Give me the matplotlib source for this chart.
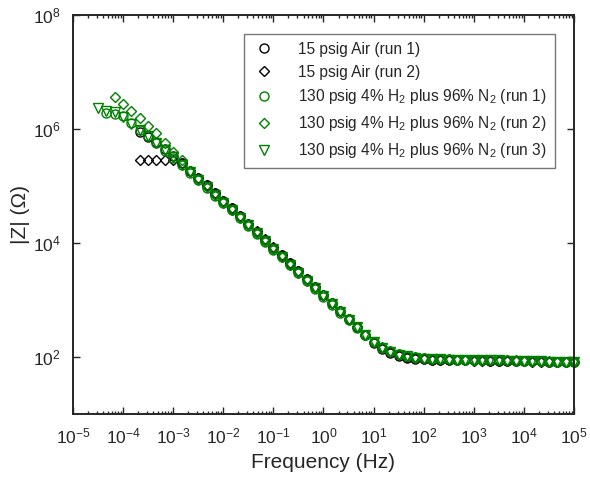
import numpy as np
import matplotlib
matplotlib.use("Agg")
import matplotlib.pyplot as plt

# -----------------------------
# Data
# -----------------------------

# frequency grid in Hz, 6 points per decade
freq = [3.16e-5, 4.64e-5, 6.81e-5,
        1e-4, 1.47e-4, 2.15e-4, 3.16e-4, 4.64e-4, 6.81e-4,
        1e-3, 1.47e-3, 2.15e-3, 3.16e-3, 4.64e-3, 6.81e-3,
        1e-2, 1.47e-2, 2.15e-2, 3.16e-2, 4.64e-2, 6.81e-2,
        1e-1, 1.47e-1, 2.15e-1, 3.16e-1, 4.64e-1, 6.81e-1,
        1.0, 1.47, 2.15, 3.16, 4.64, 6.81,
        10.0, 14.7, 21.5, 31.6, 46.4, 68.1,
        100.0, 147.0, 215.0, 316.0, 464.0, 681.0,
        1e3, 1.47e3, 2.15e3, 3.16e3, 4.64e3, 6.81e3,
        1e4, 1.47e4, 2.15e4, 3.16e4, 4.64e4, 6.81e4,
        1e5]

# log10 |Z| (ohm) for each run, each series ends at 1e5 Hz
air_run1 = [5.95, 5.86, 5.77, 5.65, 5.53,
            5.40, 5.27, 5.14, 5.01, 4.87, 4.74,
            4.61, 4.47, 4.34, 4.20, 4.06, 3.92,
            3.79, 3.65, 3.51, 3.37, 3.23, 3.09,
            2.94, 2.80, 2.66, 2.52, 2.38, 2.25,
            2.14, 2.07, 2.02, 1.99, 1.97, 1.96,
            1.95, 1.95, 1.94, 1.94, 1.94, 1.94,
            1.94, 1.93, 1.93, 1.93, 1.93, 1.93,
            1.93, 1.93, 1.92, 1.92, 1.92, 1.91]

air_run2 = [5.46, 5.46, 5.46, 5.45, 5.45,
            5.40, 5.27, 5.14, 5.01, 4.88, 4.74,
            4.61, 4.48, 4.34, 4.21, 4.07, 3.93,
            3.79, 3.65, 3.51, 3.37, 3.23, 3.09,
            2.95, 2.81, 2.67, 2.53, 2.39, 2.26,
            2.15, 2.08, 2.03, 2.00, 1.98, 1.96,
            1.95, 1.95, 1.94, 1.94, 1.94, 1.93,
            1.93, 1.93, 1.93, 1.93, 1.93, 1.93,
            1.92, 1.92, 1.92, 1.92, 1.92, 1.92]

h2_run1 = [6.28, 6.27,
           6.22, 6.10, 5.98, 5.87, 5.75, 5.62, 5.49,
           5.36, 5.23, 5.10, 4.97, 4.83, 4.70,
           4.57, 4.43, 4.30, 4.16, 4.02, 3.88,
           3.75, 3.61, 3.47, 3.33, 3.20, 3.06,
           2.92, 2.78, 2.64, 2.51, 2.38, 2.26,
           2.16, 2.10, 2.05, 2.02, 2.00, 1.98,
           1.97, 1.96, 1.96, 1.95, 1.95, 1.95,
           1.94, 1.94, 1.94, 1.94, 1.93, 1.93,
           1.93, 1.93, 1.92, 1.92, 1.92, 1.91]

h2_run2 = [6.56,
           6.44, 6.31, 6.19, 6.06, 5.93, 5.76, 5.60,
           5.45, 5.27, 5.12, 4.98, 4.85, 4.72,
           4.58, 4.45, 4.31, 4.18, 4.04, 3.90,
           3.76, 3.62, 3.49, 3.35, 3.21, 3.08,
           2.94, 2.80, 2.66, 2.52, 2.39, 2.27,
           2.17, 2.10, 2.05, 2.02, 2.00, 1.98,
           1.97, 1.96, 1.96, 1.95, 1.95, 1.95,
           1.95, 1.94, 1.94, 1.94, 1.94, 1.93,
           1.93, 1.93, 1.93, 1.92, 1.92, 1.92]

h2_run3 = [6.37, 6.31, 6.30,
           6.21, 6.09, 5.98, 5.88, 5.76, 5.63, 5.50,
           5.37, 5.24, 5.11, 4.98, 4.84, 4.71,
           4.58, 4.44, 4.31, 4.17, 4.03, 3.89,
           3.76, 3.62, 3.48, 3.34, 3.21, 3.07,
           2.93, 2.79, 2.65, 2.52, 2.38, 2.26,
           2.16, 2.09, 2.04, 2.01, 1.99, 1.97,
           1.96, 1.96, 1.95, 1.95, 1.95, 1.94,
           1.94, 1.94, 1.94, 1.93, 1.93, 1.93,
           1.93, 1.93, 1.92, 1.92, 1.92, 1.92]

labels = ["15 psig Air (run 1)",
          "15 psig Air (run 2)",
          r"130 psig 4% H$_2$ plus 96% N$_2$ (run 1)",
          r"130 psig 4% H$_2$ plus 96% N$_2$ (run 2)",
          r"130 psig 4% H$_2$ plus 96% N$_2$ (run 3)"]

# -----------------------------
# Plot
# -----------------------------

plt.rcParams['font.family'] = ['Liberation Sans', 'DejaVu Sans']
plt.rcParams['mathtext.fontset'] = 'custom'
plt.rcParams['mathtext.rm'] = 'Liberation Sans'
plt.rcParams['mathtext.it'] = 'Liberation Sans:italic'

txt = '#262626'
green = '#008000'

fig = plt.figure(figsize=(5.9, 4.83), dpi=100)
ax = fig.add_axes([0.1237, 0.1429, 0.8492, 0.8261])

series = [(air_run1, 'o', 'k', 6.5),
          (air_run2, 'D', 'k', 5.6),
          (h2_run1, 'o', green, 6.5),
          (h2_run2, 'D', green, 5.6),
          (h2_run3, 'v', green, 7.2)]

for (z, mk, col, ms), lab in zip(series, labels):
    f = freq[len(freq) - len(z):]
    ax.plot(f, 10 ** np.array(z), linestyle='none', marker=mk, markersize=ms,
            markerfacecolor='none', markeredgecolor=col, markeredgewidth=1.0,
            label=lab, clip_on=False)

ax.set_xscale('log')
ax.set_yscale('log')
ax.set_xlim(1e-5, 1e5)
ax.set_ylim(1e1, 1e8)
ax.set_xticks([10.0 ** k for k in range(-5, 6)])
ax.set_yticks([1e2, 1e4, 1e6, 1e8])
ax.yaxis.set_minor_locator(matplotlib.ticker.NullLocator())
ax.xaxis.set_minor_locator(matplotlib.ticker.LogLocator(base=10, subs=np.arange(2, 10), numticks=20))

ax.tick_params(which='both', direction='in', top=True, right=True, colors=txt,
               labelsize=12.5, width=1.0)
ax.tick_params(which='major', length=5, pad=9)
ax.tick_params(which='minor', length=2.5)
for s in ax.spines.values():
    s.set_linewidth(1.4)
    s.set_color(txt)

ax.set_xlabel("Frequency (Hz)", fontsize=15, color=txt, labelpad=5)
ax.set_ylabel("|Z| (Ω)", fontsize=15, color=txt, labelpad=2)

leg = ax.legend(loc='upper right', bbox_to_anchor=(0.962, 0.952), fontsize=11.2,
                frameon=True, fancybox=False, borderaxespad=0, handlelength=1.6,
                handletextpad=1.4, labelspacing=0.5, borderpad=0.5)
leg.get_frame().set_edgecolor('#555555')
leg.get_frame().set_linewidth(1.0)
for t in leg.get_texts():
    t.set_color(txt)

fig.savefig("out.png", dpi=100)
